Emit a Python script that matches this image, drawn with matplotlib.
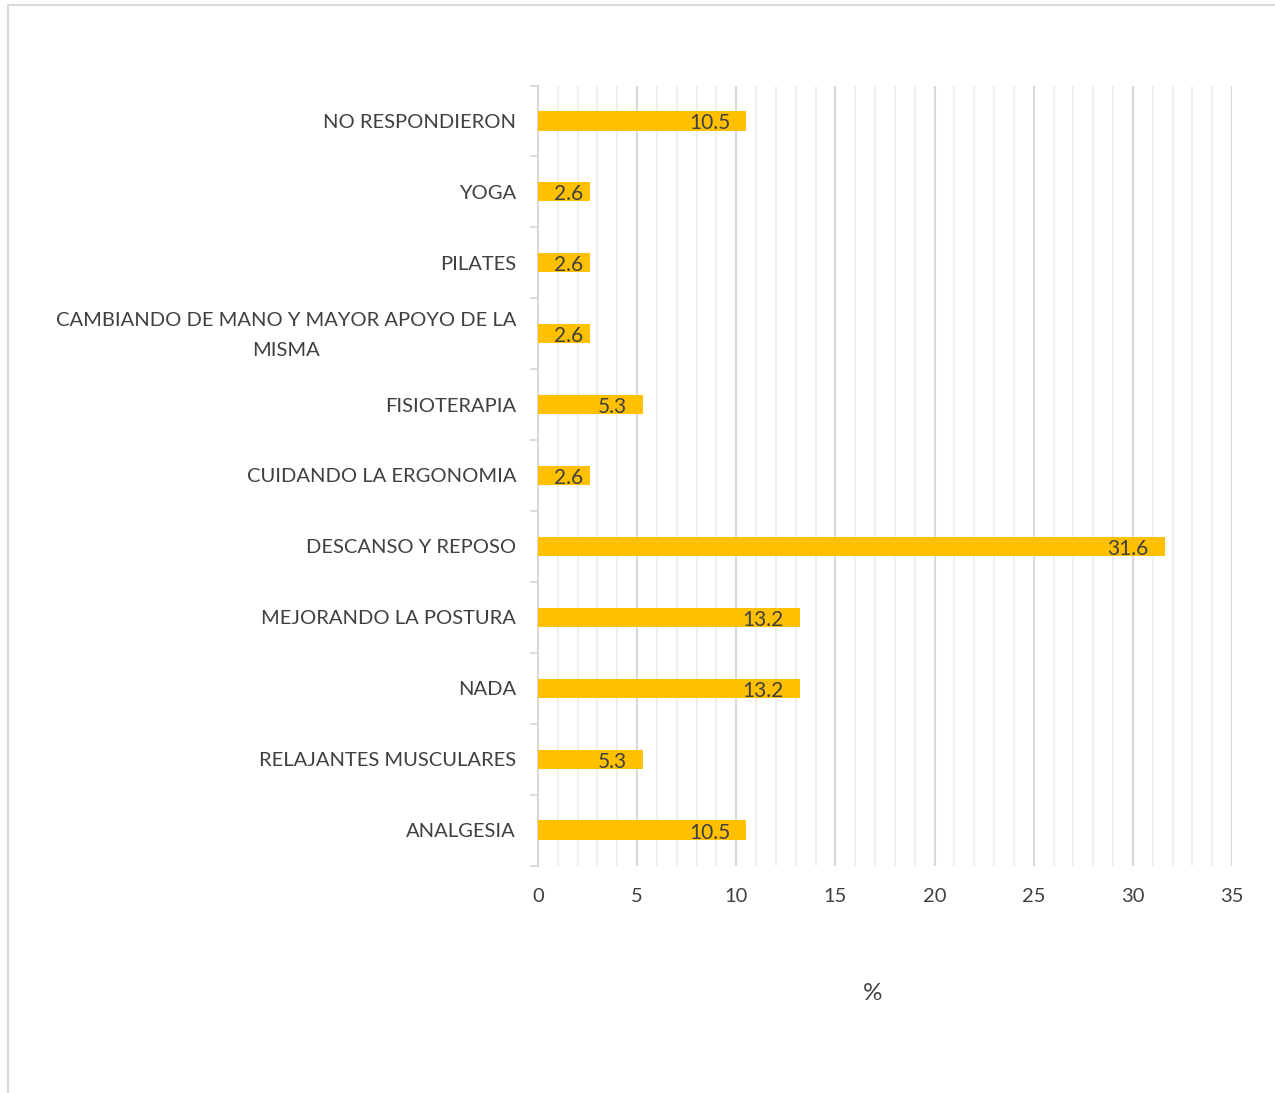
import matplotlib
matplotlib.use("Agg")
import matplotlib.pyplot as plt
from matplotlib.ticker import MultipleLocator
from matplotlib.lines import Line2D
from matplotlib.transforms import ScaledTranslation

plt.rcParams['font.family'] = ['Lato', 'DejaVu Sans']

categories = [
    "ANALGESIA",
    "RELAJANTES MUSCULARES",
    "NADA",
    "MEJORANDO LA POSTURA",
    "DESCANSO Y REPOSO",
    "CUIDANDO LA ERGONOMIA",
    "FISIOTERAPIA",
    "CAMBIANDO DE MANO Y MAYOR APOYO DE LA\nMISMA",
    "PILATES",
    "YOGA",
    "NO RESPONDIERON",
]
values = [10.5, 5.3, 13.2, 13.2, 31.6, 2.6, 5.3, 2.6, 2.6, 2.6, 10.5]
xticks = [0, 5, 10, 15, 20, 25, 30, 35]

W, H = 1275, 1093
fig = plt.figure(figsize=(W / 100, H / 100), dpi=100)
left, right, top, bottom = 538, 1232, 85.5, 865.5
ax = fig.add_axes([left / W, 1 - bottom / H, (right - left) / W, (bottom - top) / H])

y = list(range(len(categories)))
ax.barh(y, values, height=0.27, color="#FFC000", zorder=3)
ax.set_ylim(-0.5, len(categories) - 0.5)
ax.set_xlim(0, 35)

px_per_unit = (right - left) / 35
for yi, v in zip(y, values):
    pad_px = 16 if v * px_per_unit > 80 else 6
    ax.annotate(f"{v}", (v, yi), xytext=(-pad_px * 0.72, -8.5 * 0.72), textcoords="offset points",
                ha="right", va="baseline", fontsize=15, color="#404040", zorder=4)

ax.set_yticks(y)
ax.set_yticklabels(categories, multialignment="center", linespacing=1.9)
ax.set_yticks([i - 0.5 for i in range(len(categories) + 1)], minor=True)
ax.tick_params(axis="y", which="major", length=0, pad=15.8, labelsize=14.5, labelcolor="#404040")
ax.tick_params(axis="y", which="minor", length=6, width=1.3, color="#d9d9d9", direction="out")

ax.set_xticks(xticks)
ax.xaxis.set_minor_locator(MultipleLocator(1))
ax.tick_params(axis="x", which="both", length=0, pad=16.5, labelsize=14.5, labelcolor="#404040")
ax.grid(axis="x", which="major", color="#d9d9d9", linewidth=1.5, zorder=0)
ax.grid(axis="x", which="minor", color="#efefef", linewidth=1.5, zorder=0)
ax.grid(axis="y", visible=False)

for lbl in ax.get_yticklabels():
    if "\n" in lbl.get_text():
        lbl.set_transform(lbl.get_transform() + ScaledTranslation(0, 6 / 100, fig.dpi_scale_trans))

for s in ["top", "right", "bottom"]:
    ax.spines[s].set_visible(False)
ax.spines["left"].set_color("#d9d9d9")
ax.spines["left"].set_linewidth(1.5)
ax.spines["left"].set_zorder(2)

fig.text(873 / W, 1 - 994 / H, "%", ha="center", va="center", fontsize=17.5, color="#404040")

# outer chart border (top and left)
fig.add_artist(Line2D([8 / W, 1], [1 - 5 / H, 1 - 5 / H], transform=fig.transFigure,
                      color="#d9d9d9", linewidth=1.5))
fig.add_artist(Line2D([8 / W, 8 / W], [0, 1 - 5 / H], transform=fig.transFigure,
                      color="#d9d9d9", linewidth=1.5))

fig.savefig("out.png", dpi=100, facecolor="white")
